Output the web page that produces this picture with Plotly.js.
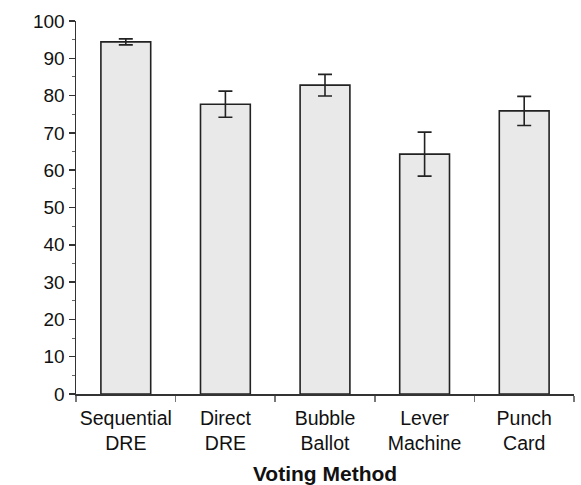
<!DOCTYPE html>
<html><head><meta charset="utf-8">
<script src="https://cdn.plot.ly/plotly-3.0.1.min.js"></script>
<style>html,body{margin:0;padding:0;background:#fff}#c{width:581px;height:485px}</style>
</head><body><div id="c"></div>
<script>
const categories = ["Sequential<br>DRE", "Direct<br>DRE", "Bubble<br>Ballot", "Lever<br>Machine", "Punch<br>Card"];
const values = [94.4, 77.7, 82.8, 64.3, 75.9];
const errors = [0.8, 3.5, 2.9, 5.9, 3.9];
const yTicks = [0, 10, 20, 30, 40, 50, 60, 70, 80, 90, 100];

Plotly.newPlot('c', [{
  type: 'bar', x: categories, y: values, width: 0.5,
  marker: {color: '#e9e9e9', line: {color: '#222', width: 1.6}},
  error_y: {type: 'data', array: errors, visible: true, color: '#222', thickness: 1.6, width: 7}
}], {
  width: 581, height: 485,
  margin: {l: 76, r: 7, t: 21, b: 91},
  paper_bgcolor: '#fff', plot_bgcolor: '#fff',
  font: {family: 'Liberation Sans, Arial, sans-serif', color: '#111'},
  showlegend: false,
  xaxis: {
    range: [-0.5, 4.5], showgrid: false, showline: true, linecolor: '#333', linewidth: 1.5,
    ticks: 'outside', tickson: 'boundaries', ticklen: 6, tickcolor: '#777', tickwidth: 1.5,
    tickfont: {size: 19.5}, tickangle: 0, ticklabelstandoff: 6, zeroline: false,
    title: {text: '<b>Voting Method</b>', font: {size: 21}, standoff: 14}
  },
  yaxis: {
    range: [0, 100], showgrid: false, showline: true, linecolor: '#333', linewidth: 1.5,
    tickvals: yTicks, ticks: 'outside', ticklen: 6, tickcolor: '#333', tickwidth: 1.5,
    tickfont: {size: 19}, zeroline: false,
    minor: {dtick: 5, ticks: 'outside', ticklen: 3, tickcolor: '#666', tickwidth: 1}
  }
}, {displayModeBar: false, staticPlot: true});
</script></body></html>
